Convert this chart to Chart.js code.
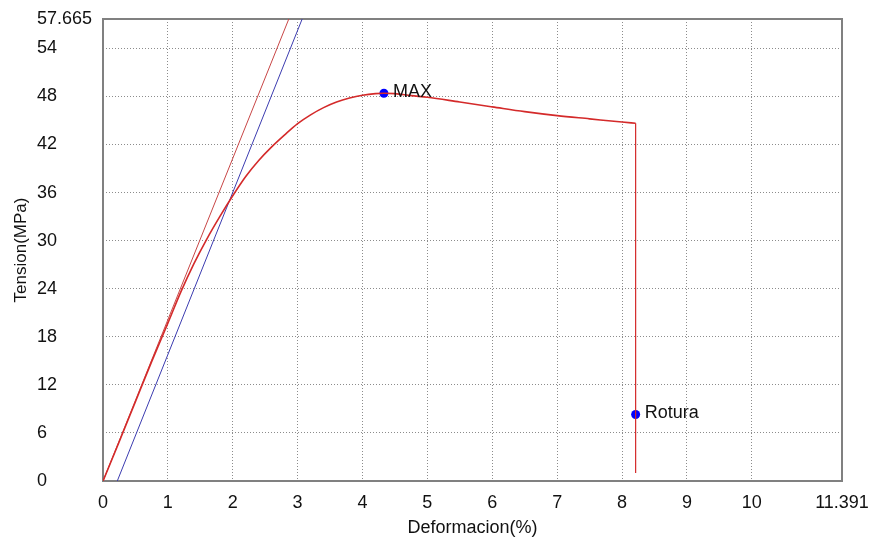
<!DOCTYPE html>
<html>
<head>
<meta charset="utf-8">
<script src="https://cdn.jsdelivr.net/npm/chart.js@4/dist/chart.umd.min.js"></script>
<style>
  html, body { margin: 0; padding: 0; background: #fff; }
  #wrap { width: 871px; height: 539px; }
</style>
</head>
<body>
<div id="wrap"><canvas id="tensileChart" width="871" height="539"></canvas></div>
<script>
// strain (%) / stress (MPa) of the test curve
var strainPct = [0, 0.25, 0.5, 0.75, 1.0, 1.2, 1.4, 1.6, 1.8, 2.0, 2.2, 2.4, 2.6, 2.8, 3.0, 3.2, 3.4, 3.6, 3.8, 4.0, 4.2, 4.33, 4.5, 4.75, 5.0, 5.5, 6.0, 6.5, 7.0, 7.5, 8.0, 8.21];
var stressMPa = [0, 4.9, 9.9, 14.9, 19.7, 23.6, 27.1, 30.2, 33.0, 35.6, 38.0, 40.0, 41.7, 43.2, 44.6, 45.7, 46.6, 47.3, 47.8, 48.15, 48.35, 48.4, 48.35, 48.1, 47.9, 47.3, 46.7, 46.1, 45.6, 45.2, 44.8, 44.65];

// drop after break
var breakStrain = [8.21, 8.21];
var breakStress = [44.65, 1.0];

// modulus line and 0.2% offset line
var modulusStrain = [0, 2.864];
var modulusStress = [0, 57.665];
var offsetStrain = [0.22, 3.07];
var offsetStress = [0, 57.665];

// marked points
var markLabels = ['MAX', 'Rotura'];
var markStrain = [4.33, 8.21];
var markStress = [48.4, 8.3];

// axis ticks
var xTicks = [0, 1, 2, 3, 4, 5, 6, 7, 8, 9, 10, 11.391];
var yTicks = [0, 6, 12, 18, 24, 30, 36, 42, 48, 54, 57.665];

var fontFamily = "'Liberation Sans', Arial, sans-serif";

function toPoints(xs, ys) {
  return xs.map(function(x, i) { return {x: x, y: ys[i]}; });
}

// solid frame around the plot area
var framePlugin = {
  id: 'frame',
  beforeDatasetsDraw: function(chart) {
    var a = chart.chartArea;
    var ctx = chart.ctx;
    ctx.save();
    ctx.strokeStyle = '#808080';
    ctx.lineWidth = 2;
    ctx.strokeRect(a.left, a.top, a.right - a.left, a.bottom - a.top);
    ctx.restore();
  }
};

// text next to the marked points
var markLabelPlugin = {
  id: 'markLabels',
  afterDatasetsDraw: function(chart) {
    var meta = chart.getDatasetMeta(4);
    var ctx = chart.ctx;
    ctx.save();
    ctx.fillStyle = '#111';
    ctx.font = '18px ' + fontFamily;
    ctx.textBaseline = 'middle';
    ctx.textAlign = 'left';
    meta.data.forEach(function(pt, i) {
      ctx.fillText(markLabels[i], pt.x + 9, pt.y - 1);
    });
    ctx.restore();
  }
};

var ctx = document.getElementById('tensileChart');

var tensileChart = new Chart(ctx, {
  type: 'scatter',
  data: {
    datasets: [{
      data: toPoints(strainPct, stressMPa),
      showLine: true,
      borderColor: '#d42a2a',
      borderWidth: 1.6,
      pointRadius: 0,
      cubicInterpolationMode: 'monotone'
    }, {
      data: toPoints(breakStrain, breakStress),
      showLine: true,
      borderColor: '#d42a2a',
      borderWidth: 1.2,
      pointRadius: 0
    }, {
      data: toPoints(modulusStrain, modulusStress),
      showLine: true,
      borderColor: '#c84646',
      borderWidth: 1,
      pointRadius: 0
    }, {
      data: toPoints(offsetStrain, offsetStress),
      showLine: true,
      borderColor: '#3c3cb0',
      borderWidth: 1,
      pointRadius: 0
    }, {
      data: toPoints(markStrain, markStress),
      showLine: false,
      pointRadius: 4.5,
      backgroundColor: '#0000ff',
      borderWidth: 0
    }]
  },
  options: {
    responsive: false,
    animation: false,
    layout: {
      padding: {left: 37, top: 19, right: 29, bottom: 0}
    },
    plugins: {
      legend: {display: false},
      tooltip: {enabled: false}
    },
    scales: {
      x: {
        type: 'linear',
        min: 0,
        max: 11.391,
        afterBuildTicks: function(scale) {
          scale.ticks = xTicks.map(function(v) { return {value: v}; });
        },
        afterFit: function(scale) {
          scale.height = 58;
        },
        ticks: {
          color: '#111',
          padding: 0,
          maxRotation: 0,
          autoSkip: false,
          font: {size: 18, family: fontFamily},
          callback: function(v) { return String(v); }
        },
        grid: {
          color: '#8c8c8c',
          lineWidth: 1,
          drawTicks: true,
          tickLength: 11,
          tickColor: 'rgba(0,0,0,0)'
        },
        border: {display: false, dash: [1, 2]},
        title: {
          display: true,
          text: 'Deformacion(%)',
          color: '#111',
          padding: {top: 0, bottom: 0},
          font: {size: 18, family: fontFamily}
        }
      },
      y: {
        type: 'linear',
        min: 0,
        max: 57.665,
        afterBuildTicks: function(scale) {
          scale.ticks = yTicks.map(function(v) { return {value: v}; });
        },
        afterFit: function(scale) {
          scale.width = 66;
        },
        ticks: {
          color: '#111',
          crossAlign: 'far',
          autoSkip: false,
          font: {size: 18, family: fontFamily},
          callback: function(v) { return String(v); }
        },
        grid: {
          color: '#8c8c8c',
          lineWidth: 1,
          drawTicks: false
        },
        border: {display: false, dash: [1, 2]},
        title: {
          display: true,
          text: 'Tension(MPa)',
          color: '#111',
          padding: {top: -26, bottom: 0},
          font: {size: 17, family: fontFamily}
        }
      }
    }
  },
  plugins: [framePlugin, markLabelPlugin]
});
</script>
</body>
</html>
